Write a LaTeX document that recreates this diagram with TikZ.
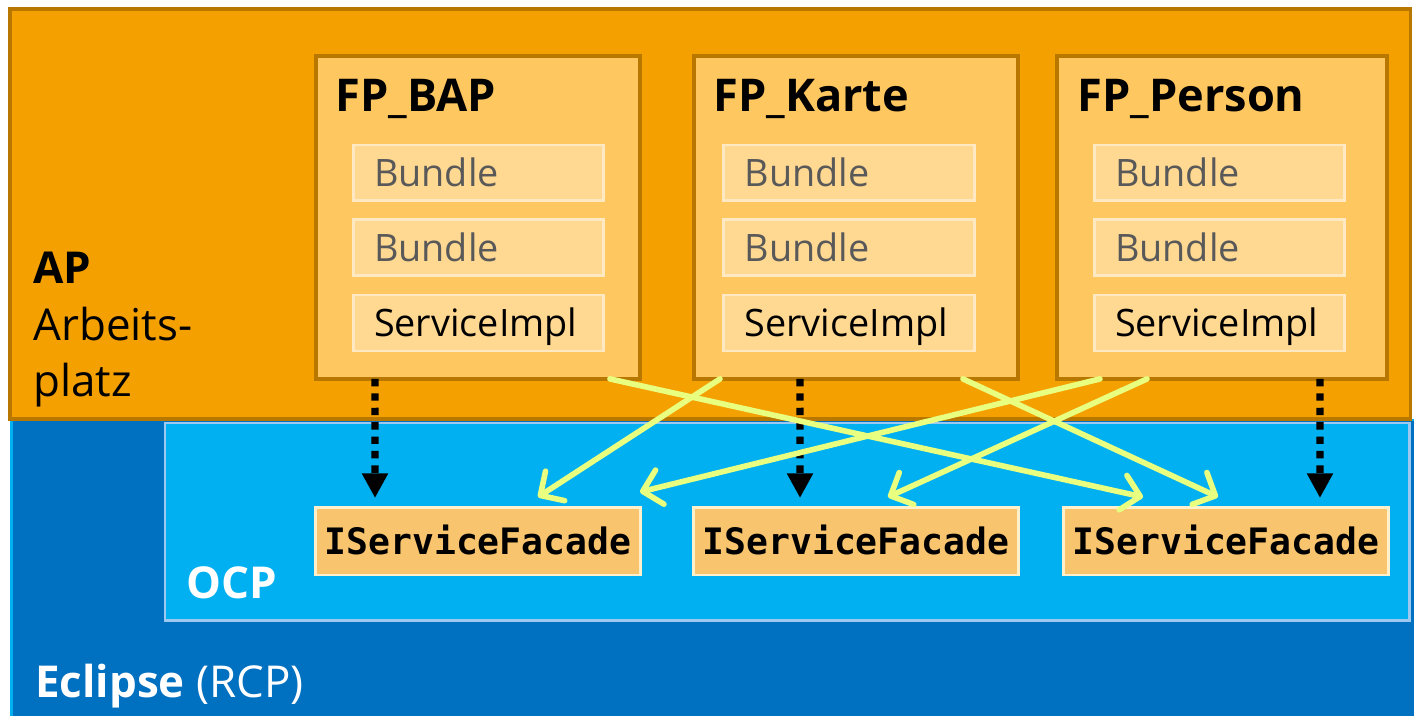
\documentclass[tikz,border=0pt]{standalone}
\usepackage{fontspec}
\setmainfont{Open Sans}
\setmonofont{DejaVu Sans Mono}
\usetikzlibrary{arrows.meta,positioning}

\definecolor{apfill}{HTML}{F4A000}
\definecolor{apline}{HTML}{B87800}
\definecolor{fpfill}{HTML}{FFC760}
\definecolor{bundlefill}{HTML}{FFD892}
\definecolor{bundleline}{HTML}{FFE9C2}
\definecolor{bundletext}{HTML}{595959}
\definecolor{ocpfill}{HTML}{00B0F0}
\definecolor{ocpline}{HTML}{9DC8F0}
\definecolor{rcpfill}{HTML}{0070C0}
\definecolor{facadefill}{HTML}{F8C56E}
\definecolor{facadeline}{HTML}{FFF0CC}
\definecolor{depline}{HTML}{E8FF80}

\tikzset{
  layer/.style={anchor=north west, outer sep=0pt, inner sep=0pt},
  fpbox/.style={layer, draw=apline, line width=2pt, fill=fpfill,
    minimum width=6.48cm, minimum height=6.46cm},
  fptitle/.style={anchor=base west, inner sep=0pt,
    font=\fontsize{25.7pt}{30pt}\selectfont\bfseries},
  bundlebox/.style={draw=bundleline, line width=1.7pt, fill=bundlefill,
    outer sep=0pt, text width=4.18cm, inner xsep=0.42cm, inner ysep=0pt,
    minimum height=1.12cm, text height=15.5pt, text depth=0pt, align=left,
    font=\fontsize{21.5pt}{26pt}\selectfont},
  facadebox/.style={draw=facadeline, line width=1.7pt, fill=facadefill,
    outer sep=0pt, minimum width=6.52cm, minimum height=1.36cm,
    text height=15pt, text depth=0pt,
    font=\fontsize{20.7pt}{24pt}\selectfont\ttfamily\bfseries},
  uses/.style={line width=4.2pt, dash pattern=on 4.2pt off 4pt,
    -{Triangle[length=14pt,width=14pt]}},
  calls/.style={draw=depline, line width=3.2pt, line cap=round,
    -{Straight Barb[length=10pt,width=20pt,round]}},
}

\begin{document}
\begin{tikzpicture}[x=0.02cm,y=-0.02cm]
  \useasboundingbox (0,0) rectangle (1414,716);
  \clip (0,0) rectangle (1414,716);

  % platform layers
  \node[layer, draw=ocpfill, fill=rcpfill, line width=1.7pt,
    minimum width=28.6cm, minimum height=6.4cm] (rcp) at (11.5,420) {};
  \node[layer, draw=ocpline, fill=ocpfill, line width=1.7pt,
    minimum width=24.9cm, minimum height=3.96cm] (ocp) at (165,423) {};
  \node[layer, draw=apline, fill=apfill, line width=2pt,
    minimum width=28.02cm, minimum height=8.2cm] (ap) at (10,9) {};

  \node[anchor=base west, inner sep=0pt, align=left,
    font=\fontsize{25pt}{32.3pt}\selectfont] (ap-label) at (33,397)
    {\textbf{AP}\\Arbeits-\\platz};
  \node[anchor=base west, inner sep=0pt, text=white,
    font=\fontsize{25pt}{30pt}\selectfont\bfseries] (ocp-label) at (186,598) {OCP};
  \node[anchor=base west, inner sep=0pt, text=white,
    font=\fontsize{25pt}{30pt}\selectfont] (rcp-label) at (35,697)
    {\textbf{Eclipse} (RCP)};

  % feature packages
  \node[fpbox] (bap) at (316,56) {};
  \node[fpbox] (karte) at (694,56) {};
  \node[fpbox, minimum width=6.6cm] (person) at (1057,56) {};

  \node[fptitle] (bap-title) at (335,112) {FP\_BAP};
  \node[fptitle] (karte-title) at (713,112) {FP\_Karte};
  \node[fptitle] (person-title) at (1077,112) {FP\_Person};

  \node[bundlebox, text=bundletext] (bap-b1) at (478.5,173) {Bundle};
  \node[bundlebox, text=bundletext] (bap-b2) at (478.5,247.5) {Bundle};
  \node[bundlebox] (bap-impl) at (478.5,323) {ServiceImpl};
  \node[bundlebox, text=bundletext] (karte-b1) at (849,173) {Bundle};
  \node[bundlebox, text=bundletext] (karte-b2) at (849,247.5) {Bundle};
  \node[bundlebox] (karte-impl) at (849,323) {ServiceImpl};
  \node[bundlebox, text=bundletext] (person-b1) at (1219.5,173) {Bundle};
  \node[bundlebox, text=bundletext] (person-b2) at (1219.5,247.5) {Bundle};
  \node[bundlebox] (person-impl) at (1219.5,323) {ServiceImpl};

  % facades in OCP
  \node[facadebox] (fac1) at (478,541) {IServiceFacade};
  \node[facadebox] (fac2) at (856,541) {IServiceFacade};
  \node[facadebox] (fac3) at (1226,541) {IServiceFacade};

  \draw[uses] ([xshift=-2.06cm]bap.south) -- ([shift={(-2.06cm,0.18cm)}]fac1.north);
  \draw[uses] ([xshift=-1.12cm]karte.south) -- ([shift={(-1.12cm,0.18cm)}]fac2.north);
  \draw[uses] ([xshift=1.96cm]person.south) -- ([shift={(1.88cm,0.18cm)}]fac3.north);

  \draw[calls] ([xshift=2.64cm]bap.south) -- ([shift={(-1.66cm,0.2cm)}]fac3.north);
  \draw[calls] ([xshift=-2.72cm]karte.south) -- ([shift={(1.2cm,0.2cm)}]fac1.north);
  \draw[calls] ([xshift=2.14cm]karte.south) -- ([shift={(-0.16cm,0.2cm)}]fac3.north);
  \draw[calls] ([xshift=-2.44cm]person.south) -- ([shift={(3.24cm,0.3cm)}]fac1.north);
  \draw[calls] ([xshift=-1.5cm]person.south) -- ([shift={(0.64cm,0.2cm)}]fac2.north);
\end{tikzpicture}
\end{document}
